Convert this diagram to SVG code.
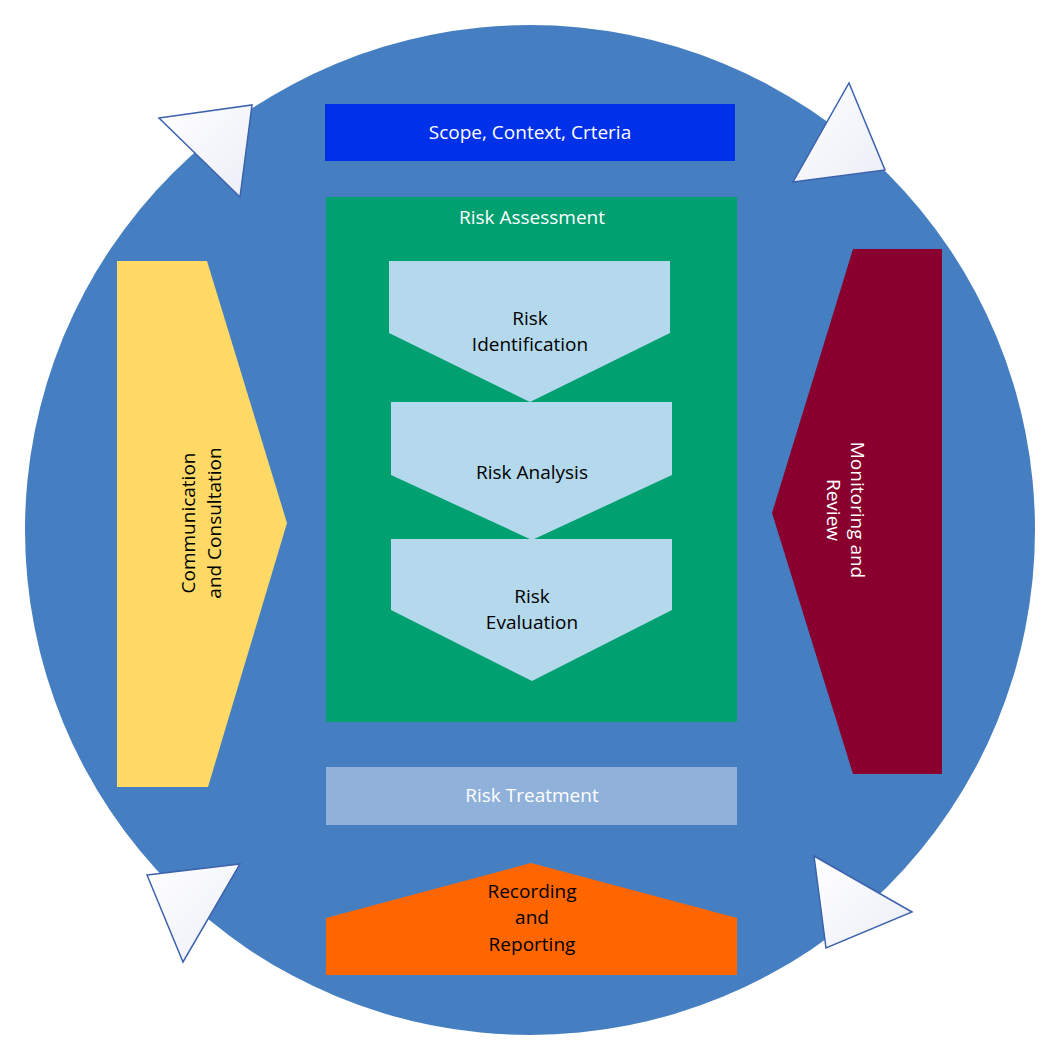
<svg xmlns="http://www.w3.org/2000/svg" width="1061" height="1061" viewBox="0 0 1061 1061">
<style>
.t{font-family:"Open Sans","Noto Sans",sans-serif;font-size:19px;text-anchor:middle;dominant-baseline:central}
.w{fill:#ffffff}
.k{fill:#000000}
.chev{fill:#b4d8ec}
.tri{fill:url(#tg);stroke:#3d62ad;stroke-width:1.5}
</style>
<defs>
<linearGradient id="tg" x1="0" y1="0" x2="1" y2="1">
<stop offset="0" stop-color="#ffffff"/>
<stop offset="1" stop-color="#eceef7"/>
</linearGradient>
</defs>
<rect width="1061" height="1061" fill="#ffffff"/>
<g id="circle"><circle cx="530" cy="530" r="505" fill="#467fc1"/></g>
<g id="connectors">
<polygon class="tri" points="159,118 252,105 240,197"/>
<polygon class="tri" points="849,83 885,170 793,182"/>
<polygon class="tri" points="147,875 240,864 183,962"/>
<polygon class="tri" points="814,856 912,912 826,948"/>
</g>
<g id="scope"><rect x="325" y="104" width="410" height="57" fill="#0030e8"/><text class="t w" x="530" y="132">Scope, Context, Crteria</text></g>
<g id="assessment"><rect x="326" y="197" width="411" height="525" fill="#00a070"/><text class="t w" x="532" y="217">Risk Assessment</text></g>
<g id="identification"><polygon class="chev" points="389,261 670,261 670,333 530,402 389,333"/><text class="t k" x="530" y="318">Risk</text><text class="t k" x="530" y="344">Identification</text></g>
<g id="analysis"><polygon class="chev" points="391,402 672,402 672,475 532,540 391,475"/><text class="t k" x="532" y="472">Risk Analysis</text></g>
<g id="evaluation"><polygon class="chev" points="391,539 672,539 672,610 532,681 391,610"/><text class="t k" x="532" y="596">Risk</text><text class="t k" x="532" y="622">Evaluation</text></g>
<g id="communication"><polygon points="117,261 207,261 287,523 208,787 117,787" fill="#fed966"/><text class="t k" transform="translate(201,523) rotate(-90)"><tspan x="0" y="-13">Communication</tspan><tspan x="0" y="13">and Consultation</tspan></text></g>
<g id="monitoring"><polygon points="853,249 942,249 942,774 853,774 772,513" fill="#89002e"/><text class="t w" transform="translate(846,510) rotate(90)"><tspan x="0" y="-12">Monitoring and</tspan><tspan x="0" y="12">Review</tspan></text></g>
<g id="treatment"><rect x="326" y="767" width="411" height="58" fill="#8fb1da"/><text class="t w" x="532" y="795">Risk Treatment</text></g>
<g id="recording"><polygon points="326,918 531,863 737,918 737,975 326,975" fill="#ff6600"/><text class="t k" x="532" y="891">Recording</text><text class="t k" x="532" y="917">and</text><text class="t k" x="532" y="944">Reporting</text></g>
</svg>
